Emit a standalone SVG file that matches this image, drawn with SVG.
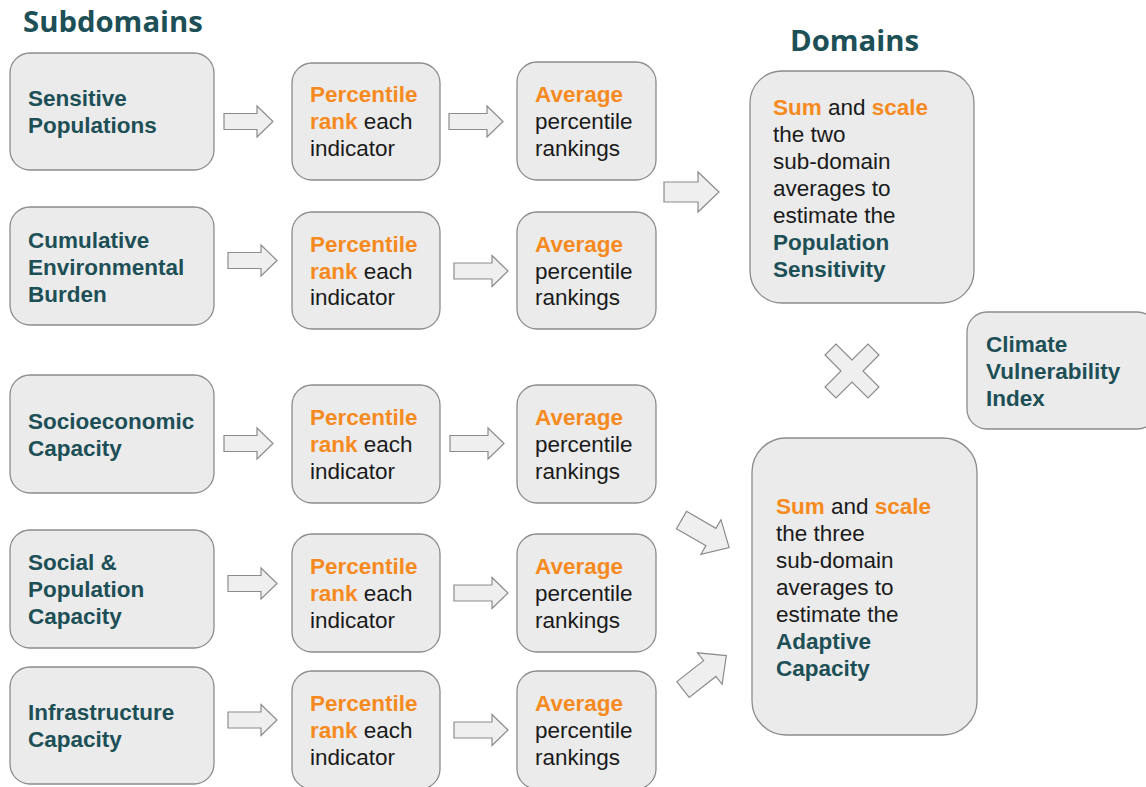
<svg xmlns="http://www.w3.org/2000/svg" xmlns:xlink="http://www.w3.org/1999/xlink" width="1146" height="787" viewBox="0 0 1146 787">
  <style>
    .box { fill: #ebebeb; stroke: #8c8c8c; stroke-width: 1.3; }
    .arrow { fill: #efefef; stroke: #8c8c8c; stroke-width: 1.2; stroke-linejoin: miter; }
    .title { font-family: "Open Sans", "Noto Sans", sans-serif; font-weight: 700; font-size: 29.3px; fill: #1d4f56; }
    .t { font-family: "Liberation Sans", Arial, sans-serif; font-size: 22.5px; fill: #1a1a1a; }
    .hd { font-weight: 700; fill: #1d4f56; }
    .or { font-weight: 700; fill: #f68a1e; }
  </style>
  <defs>
    <!-- block arrows, drawn pointing right from the origin -->
    <path id="arr-s" class="arrow" d="M0,-8 H33 V-15.5 L49,0 L33,15.5 V8 H0 Z"/>
    <path id="arr-l" class="arrow" d="M0,-8 H38 V-15.5 L54,0 L38,15.5 V8 H0 Z"/>
    <path id="arr-b" class="arrow" d="M0,-10 H34 V-20 L55,0 L34,20 V10 H0 Z"/>
  </defs>

  <text class="title" x="23" y="32">Subdomains</text>
  <text class="title" x="790" y="51">Domains</text>

  <!-- connectors -->
  <g id="connectors">
    <use xlink:href="#arr-s" transform="translate(224,121.5)"/>
    <use xlink:href="#arr-l" transform="translate(449,121.5)"/>
    <use xlink:href="#arr-s" transform="translate(228,260.5)"/>
    <use xlink:href="#arr-l" transform="translate(454,271)"/>
    <use xlink:href="#arr-s" transform="translate(224,443.5)"/>
    <use xlink:href="#arr-l" transform="translate(450,443.5)"/>
    <use xlink:href="#arr-s" transform="translate(228,583.5)"/>
    <use xlink:href="#arr-l" transform="translate(454,593)"/>
    <use xlink:href="#arr-s" transform="translate(228,720)"/>
    <use xlink:href="#arr-l" transform="translate(454,730)"/>
    <use xlink:href="#arr-b" transform="translate(664,192)"/>
    <use xlink:href="#arr-b" transform="translate(681.5,520) rotate(30)"/>
    <use xlink:href="#arr-b" transform="translate(683,689.5) rotate(-38)"/>
    <!-- multiplication sign between the two domains -->
    <path class="arrow" d="M852,360 L836,344 L825,355 L841,371 L825,387 L836,398 L852,382 L868,398 L879,387 L863,371 L879,355 L868,344 Z"/>
  </g>

  <!-- subdomain column -->
  <g id="sensitive-populations">
    <rect class="box" x="10" y="53" width="204" height="117" rx="20"/>
    <text class="t hd" x="28" y="106">Sensitive</text>
    <text class="t hd" x="28" y="133">Populations</text>
  </g>
  <g id="cumulative-environmental-burden">
    <rect class="box" x="10" y="207" width="204" height="118" rx="20"/>
    <text class="t hd" x="28" y="248">Cumulative</text>
    <text class="t hd" x="28" y="275">Environmental</text>
    <text class="t hd" x="28" y="302">Burden</text>
  </g>
  <g id="socioeconomic-capacity">
    <rect class="box" x="10" y="375" width="204" height="118" rx="20"/>
    <text class="t hd" x="28" y="429">Socioeconomic</text>
    <text class="t hd" x="28" y="456">Capacity</text>
  </g>
  <g id="social-population-capacity">
    <rect class="box" x="10" y="530" width="204" height="118" rx="20"/>
    <text class="t hd" x="28" y="570">Social &amp;</text>
    <text class="t hd" x="28" y="597">Population</text>
    <text class="t hd" x="28" y="624">Capacity</text>
  </g>
  <g id="infrastructure-capacity">
    <rect class="box" x="10" y="667" width="204" height="117" rx="20"/>
    <text class="t hd" x="28" y="720">Infrastructure</text>
    <text class="t hd" x="28" y="747">Capacity</text>
  </g>

  <!-- percentile rank column -->
  <g id="rank-1">
    <rect class="box" x="292" y="63" width="148" height="117" rx="20"/>
    <text class="t" x="310" y="102"><tspan class="or">Percentile</tspan></text>
    <text class="t" x="310" y="129"><tspan class="or">rank</tspan> each</text>
    <text class="t" x="310" y="156">indicator</text>
  </g>
  <g id="rank-2">
    <rect class="box" x="292" y="212" width="148" height="117" rx="20"/>
    <text class="t" x="310" y="252"><tspan class="or">Percentile</tspan></text>
    <text class="t" x="310" y="279"><tspan class="or">rank</tspan> each</text>
    <text class="t" x="310" y="305">indicator</text>
  </g>
  <g id="rank-3">
    <rect class="box" x="292" y="385" width="148" height="118" rx="20"/>
    <text class="t" x="310" y="425"><tspan class="or">Percentile</tspan></text>
    <text class="t" x="310" y="452"><tspan class="or">rank</tspan> each</text>
    <text class="t" x="310" y="479">indicator</text>
  </g>
  <g id="rank-4">
    <rect class="box" x="292" y="534" width="148" height="118" rx="20"/>
    <text class="t" x="310" y="574"><tspan class="or">Percentile</tspan></text>
    <text class="t" x="310" y="601"><tspan class="or">rank</tspan> each</text>
    <text class="t" x="310" y="628">indicator</text>
  </g>
  <g id="rank-5">
    <rect class="box" x="292" y="671" width="148" height="118" rx="20"/>
    <text class="t" x="310" y="711"><tspan class="or">Percentile</tspan></text>
    <text class="t" x="310" y="738"><tspan class="or">rank</tspan> each</text>
    <text class="t" x="310" y="765">indicator</text>
  </g>

  <!-- averaging column -->
  <g id="average-1">
    <rect class="box" x="517" y="62" width="139" height="118" rx="20"/>
    <text class="t" x="535" y="102"><tspan class="or">Average</tspan></text>
    <text class="t" x="535" y="129">percentile</text>
    <text class="t" x="535" y="156">rankings</text>
  </g>
  <g id="average-2">
    <rect class="box" x="517" y="212" width="139" height="117" rx="20"/>
    <text class="t" x="535" y="252"><tspan class="or">Average</tspan></text>
    <text class="t" x="535" y="279">percentile</text>
    <text class="t" x="535" y="305">rankings</text>
  </g>
  <g id="average-3">
    <rect class="box" x="517" y="385" width="139" height="118" rx="20"/>
    <text class="t" x="535" y="425"><tspan class="or">Average</tspan></text>
    <text class="t" x="535" y="452">percentile</text>
    <text class="t" x="535" y="479">rankings</text>
  </g>
  <g id="average-4">
    <rect class="box" x="517" y="534" width="139" height="118" rx="20"/>
    <text class="t" x="535" y="574"><tspan class="or">Average</tspan></text>
    <text class="t" x="535" y="601">percentile</text>
    <text class="t" x="535" y="628">rankings</text>
  </g>
  <g id="average-5">
    <rect class="box" x="517" y="671" width="139" height="118" rx="20"/>
    <text class="t" x="535" y="711"><tspan class="or">Average</tspan></text>
    <text class="t" x="535" y="738">percentile</text>
    <text class="t" x="535" y="765">rankings</text>
  </g>

  <!-- domains -->
  <g id="population-sensitivity">
    <rect class="box" x="750" y="71" width="224" height="232" rx="32"/>
    <text class="t" x="773" y="115"><tspan class="or">Sum</tspan> and <tspan class="or">scale</tspan></text>
    <text class="t" x="773" y="142">the two</text>
    <text class="t" x="773" y="169">sub-domain</text>
    <text class="t" x="773" y="196">averages to</text>
    <text class="t" x="773" y="223">estimate the</text>
    <text class="t hd" x="773" y="250">Population</text>
    <text class="t hd" x="773" y="277">Sensitivity</text>
  </g>
  <g id="adaptive-capacity">
    <rect class="box" x="752" y="438" width="225" height="297" rx="34"/>
    <text class="t" x="776" y="514"><tspan class="or">Sum</tspan> and <tspan class="or">scale</tspan></text>
    <text class="t" x="776" y="541">the three</text>
    <text class="t" x="776" y="568">sub-domain</text>
    <text class="t" x="776" y="595">averages to</text>
    <text class="t" x="776" y="622">estimate the</text>
    <text class="t hd" x="776" y="649">Adaptive</text>
    <text class="t hd" x="776" y="676">Capacity</text>
  </g>
  <g id="climate-vulnerability-index">
    <rect class="box" x="967" y="312" width="190" height="117" rx="20"/>
    <text class="t hd" x="986" y="352">Climate</text>
    <text class="t hd" x="986" y="379">Vulnerability</text>
    <text class="t hd" x="986" y="406">Index</text>
  </g>
</svg>
